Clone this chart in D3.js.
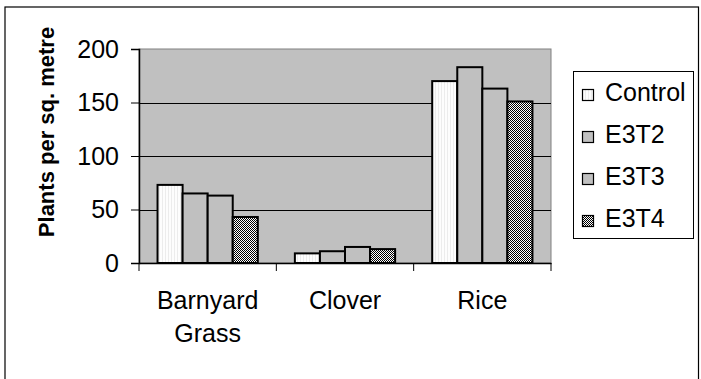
<!DOCTYPE html>
<html><head><meta charset="utf-8">
<script src="https://cdn.jsdelivr.net/npm/d3@7"></script>
<style>body{margin:0;background:#fff}svg{display:block;font-family:Arial,"Liberation Sans",sans-serif}</style>
</head><body><svg id="c" width="701" height="379"></svg>
<script>
const categories = [["Barnyard","Grass"],["Clover"],["Rice"]];
const categoryKeys = ["Barnyard Grass","Clover","Rice"];
const seriesNames = ["Control","E3T2","E3T3","E3T4"];
const control = [73, 9, 170];
const e3t2 = [65, 11, 183];
const e3t3 = [63, 15, 163];
const e3t4 = [43, 13, 151];
const yTicks = [0, 50, 100, 150, 200];
const yTitle = "Plants per sq. metre";

const seriesValues = [control, e3t2, e3t3, e3t4];
const FS = 25;
const svg = d3.select("#c");
const defs = svg.append("defs");
const pc = defs.append("pattern").attr("id","pControl").attr("patternUnits","userSpaceOnUse").attr("width",3).attr("height",3);
pc.append("rect").attr("width",3).attr("height",3).attr("fill","#fdfdfd");
pc.append("rect").attr("width",1).attr("height",3).attr("fill","#ececec");
const p4 = defs.append("pattern").attr("id","pE3T4").attr("patternUnits","userSpaceOnUse").attr("width",2).attr("height",2);
p4.append("rect").attr("width",2).attr("height",2).attr("fill","#ffffff");
p4.append("rect").attr("width",1).attr("height",1).attr("fill","#000");
p4.append("rect").attr("x",1).attr("y",1).attr("width",1).attr("height",1).attr("fill","#000");
const fills = ["url(#pControl)","#c0c0c0","#c0c0c0","url(#pE3T4)"];

// outer frame
svg.append("rect").attr("x",5).attr("y",7).attr("width",693.5).attr("height",420)
  .attr("fill","#fff").attr("stroke","#000").attr("stroke-width",1.2);

const L=139, R=551, T=49, B=263;
const x = d3.scaleBand().domain(categoryKeys).range([L,R]).padding(0);
const xs = d3.scaleBand().domain(seriesNames).range([x.bandwidth()*0.135, x.bandwidth()*0.865]).padding(0);
const y = d3.scaleLinear().domain([0,200]).range([B,T]);

svg.append("rect").attr("x",L).attr("y",T).attr("width",R-L).attr("height",B-T)
  .attr("fill","#c0c0c0").attr("stroke","#808080").attr("stroke-width",1);

// gridlines
svg.append("g").selectAll("line").data(yTicks.filter(v=>v>0 && v<200)).join("line")
  .attr("x1",L).attr("x2",R).attr("y1",d=>Math.round(y(d))+0.5).attr("y2",d=>Math.round(y(d))+0.5)
  .attr("stroke","#000").attr("stroke-width",1);

// bars
const g = svg.append("g");
categoryKeys.forEach((c,ci)=>{
  seriesNames.forEach((s,si)=>{
    const v = seriesValues[si][ci];
    g.append("rect")
      .attr("x", x(c)+xs(s)).attr("y", y(v))
      .attr("width", xs.bandwidth()).attr("height", y(0)-y(v))
      .attr("fill", fills[si]).attr("stroke","#000").attr("stroke-width",2);
  });
});

// y axis
const yAxis = d3.axisLeft(y).tickValues(yTicks).tickSize(8).tickPadding(12);
const ya = svg.append("g").attr("transform",`translate(${L},0)`).call(yAxis);
ya.select(".domain").attr("stroke","#000").attr("stroke-width",1.5);
ya.selectAll(".tick line").attr("stroke","#000");
ya.selectAll(".tick text").attr("font-size",FS).attr("fill","#000").attr("font-family","Arial, 'Liberation Sans', sans-serif");

// x axis
const xAxis = d3.axisBottom(x).tickSize(0).tickFormat("");
const xa = svg.append("g").attr("transform",`translate(0,${B})`).call(xAxis);
xa.select(".domain").attr("stroke","#000").attr("stroke-width",1.5);
const bounds = categoryKeys.map(c=>x(c)).concat([x(categoryKeys[categoryKeys.length-1])+x.bandwidth()]);
xa.selectAll("line.cat").data(bounds).join("line").attr("class","cat")
  .attr("x1",d=>d).attr("x2",d=>d).attr("y1",0).attr("y2",8).attr("stroke","#000");
categories.forEach((lines,ci)=>{
  const t = svg.append("text").attr("text-anchor","middle").attr("font-size",FS).attr("fill","#000")
    .attr("x", x(categoryKeys[ci])+x.bandwidth()/2).attr("y",309);
  lines.forEach((ln,li)=>t.append("tspan").attr("x", x(categoryKeys[ci])+x.bandwidth()/2).attr("dy", li?33:0).text(ln));
});

// y title
svg.append("text").attr("transform","translate(54,132) rotate(-90)").attr("text-anchor","middle")
  .attr("font-size",22).attr("font-weight","bold").attr("fill","#000").text(yTitle);

// legend
const lg = svg.append("g");
lg.append("rect").attr("x",573.5).attr("y",71.5).attr("width",120).attr("height",167)
  .attr("fill","#fff").attr("stroke","#000").attr("stroke-width",1);
seriesNames.forEach((s,i)=>{
  const by = 101 + i*42;
  lg.append("rect").attr("x",582.5).attr("y",by-11.5).attr("width",11).attr("height",11)
    .attr("fill",fills[i]).attr("stroke","#000").attr("stroke-width",1.2);
  lg.append("text").attr("x",605).attr("y",by).attr("font-size",FS).attr("fill","#000").text(s);
});
</script></body></html>
